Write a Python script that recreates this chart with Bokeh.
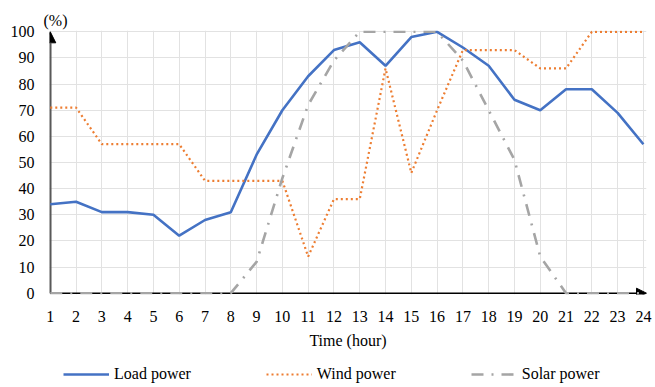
from bokeh.plotting import figure
from bokeh.layouts import column
from bokeh.models import Range1d, FixedTicker, Arrow, NormalHead, Legend, LegendItem
from bokeh.embed import file_html
from bokeh.resources import INLINE

hours = list(range(1, 25))
load_power = [34, 35, 31, 31, 30, 22, 28, 31, 53, 70, 83, 93, 96, 87, 98, 100, 94, 87, 74, 70, 78, 78, 69, 57]
wind_power = [71, 71, 57, 57, 57, 57, 43, 43, 43, 43, 14, 36, 36, 86, 46, 70, 93, 93, 93, 86, 86, 100, 100, 100]
solar_power = [0, 0, 0, 0, 0, 0, 0, 0, 12, 44, 72, 89, 100, 100, 100, 100, 89, 70, 51, 14, 0, 0, 0, 0]
y_ticks = list(range(0, 101, 10))
series_names = ["Load power", "Wind power", "Solar power"]

FONT = "Liberation Serif"
LOAD_STYLE = dict(line_color="#4472C4", line_width=2.6)
WIND_STYLE = dict(line_color="#ED7D31", line_width=2.2, line_dash="2 3")
SOLAR_STYLE = dict(line_color="#A5A5A5", line_width=2.6, line_dash="12 8 2 8")

p = figure(width=655, height=355, output_backend="svg", toolbar_location=None,
           x_range=Range1d(0.97, 24.12), y_range=Range1d(-0.5, 100.5),
           min_border_left=49, min_border_right=9, min_border_top=30, min_border_bottom=61,
           title="(%)")
p.outline_line_color = None
p.background_fill_color = "white"
p.title.text_font = FONT
p.title.text_font_size = "16px"
p.title.text_font_style = "normal"
p.title.text_color = "black"
p.title.align = "left"
p.title.offset = -6
p.title.standoff = 3

# grid
p.xgrid.ticker = FixedTicker(ticks=hours)
p.ygrid.ticker = FixedTicker(ticks=y_ticks)
for g in (p.xgrid, p.ygrid):
    g.grid_line_color = "#e2e2e2"
    g.grid_line_width = 1

# axes
p.xaxis.ticker = FixedTicker(ticks=hours)
p.yaxis.ticker = FixedTicker(ticks=y_ticks)
for ax in (p.xaxis, p.yaxis):
    ax.axis_line_color = None
    ax.major_tick_line_color = None
    ax.minor_tick_line_color = None
    ax.major_tick_out = 0
    ax.major_tick_in = 0
    ax.major_label_text_font = FONT
    ax.major_label_text_font_size = "16px"
    ax.major_label_text_color = "black"
p.yaxis.major_label_standoff = 15
p.xaxis.major_label_standoff = 16
p.xaxis.axis_label = "Time (hour)"
p.xaxis.axis_label_text_font = FONT
p.xaxis.axis_label_text_font_size = "16px"
p.xaxis.axis_label_text_font_style = "normal"
p.xaxis.axis_label_text_color = "black"
p.xaxis.axis_label_standoff = 7

# axis arrows
p.add_layout(Arrow(end=NormalHead(size=11, fill_color="black", line_color="black"),
                   x_start=1, y_start=0, x_end=1, y_end=100,
                   line_color="#595959", line_width=2.5, level="underlay"))
p.add_layout(Arrow(end=NormalHead(size=10, fill_color="black", line_color="black"),
                   x_start=1, y_start=0, x_end=24.12, y_end=0,
                   line_color="black", line_width=1.5, level="underlay"))

p.line(hours, load_power, **LOAD_STYLE)
p.line(hours, wind_power, **WIND_STYLE)
p.line(hours, solar_power, **SOLAR_STYLE)

# legend strip below the chart (its frame is aligned with the chart's frame);
# the series are drawn there outside the visible range so only legend samples show
pl = figure(width=655, height=32, output_backend="svg", toolbar_location=None,
            x_range=Range1d(100, 101), y_range=Range1d(0, 1),
            min_border_left=0, min_border_right=0, min_border_top=0, min_border_bottom=0)
pl.axis.visible = False
pl.grid.visible = False
pl.outline_line_color = None
l1 = pl.line(hours, load_power, **LOAD_STYLE)
l2 = pl.line(hours, wind_power, **WIND_STYLE)
l3 = pl.line(hours, solar_power, **SOLAR_STYLE)
legend = Legend(items=[LegendItem(label=series_names[0], renderers=[l1]),
                       LegendItem(label=series_names[1], renderers=[l2]),
                       LegendItem(label=series_names[2], renderers=[l3])],
                orientation="horizontal", location=(14, 3), padding=0, margin=0,
                spacing=75, glyph_width=46, glyph_height=20, label_height=20, label_standoff=5,
                border_line_color=None, background_fill_alpha=0,
                label_text_font=FONT, label_text_font_size="16px", label_text_color="black")
pl.add_layout(legend)

layout = column(p, pl, spacing=0)
open("out.html", "w").write(file_html(layout, INLINE))
